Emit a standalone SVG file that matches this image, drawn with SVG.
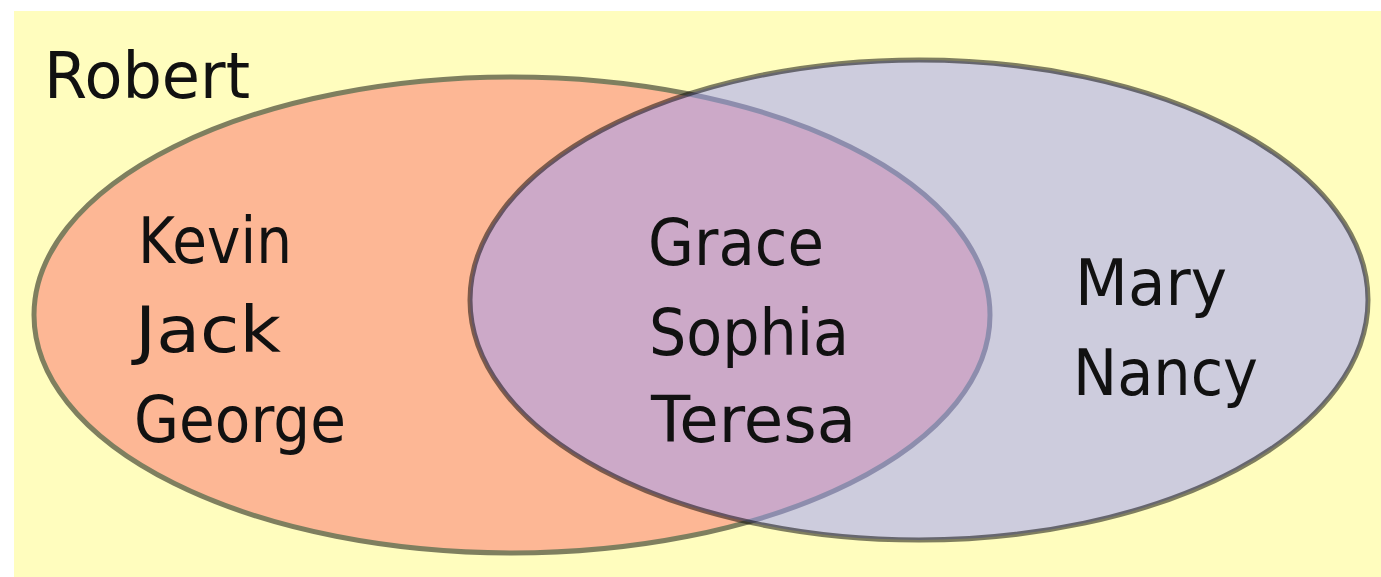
<svg xmlns="http://www.w3.org/2000/svg" width="1381" height="577" viewBox="0 0 1381 577">
  <style>
    .lbl { font-family: "Comic Sans MS", "DejaVu Sans", sans-serif; font-size: 64px; fill: #111; }
  </style>
  <rect width="1381" height="577" fill="#ffffff"/>
  <!-- universe -->
  <g id="universe">
    <rect x="14" y="11" width="1367" height="566" fill="#fffdbe"/>
    <text class="lbl" x="44" y="98" textLength="206" lengthAdjust="spacingAndGlyphs">Robert</text>
  </g>
  <!-- set A (left) -->
  <g id="setA">
    <ellipse cx="512" cy="315" rx="478" ry="238" fill="#fdb795" stroke="#7f7f5f" stroke-width="5"/>
  </g>
  <!-- set B (right), translucent over set A -->
  <g id="setB">
    <ellipse cx="919" cy="300" rx="449" ry="240" fill="#9b9bfc" fill-opacity="0.5" stroke="#000" stroke-opacity="0.5" stroke-width="5"/>
  </g>
  <g id="labelsA">
    <text class="lbl" x="138" y="263" textLength="154" lengthAdjust="spacingAndGlyphs">Kevin</text>
    <text class="lbl" x="135" y="352" textLength="146" lengthAdjust="spacingAndGlyphs">Jack</text>
    <text class="lbl" x="134" y="442" textLength="212" lengthAdjust="spacingAndGlyphs">George</text>
  </g>
  <g id="labelsAB">
    <text class="lbl" x="648" y="265" textLength="176" lengthAdjust="spacingAndGlyphs">Grace</text>
    <text class="lbl" x="649" y="355" textLength="200" lengthAdjust="spacingAndGlyphs">Sophia</text>
    <text class="lbl" x="651" y="442" textLength="205" lengthAdjust="spacingAndGlyphs">Teresa</text>
  </g>
  <g id="labelsB">
    <text class="lbl" x="1075" y="305" textLength="152" lengthAdjust="spacingAndGlyphs">Mary</text>
    <text class="lbl" x="1073" y="395" textLength="185" lengthAdjust="spacingAndGlyphs">Nancy</text>
  </g>
</svg>
